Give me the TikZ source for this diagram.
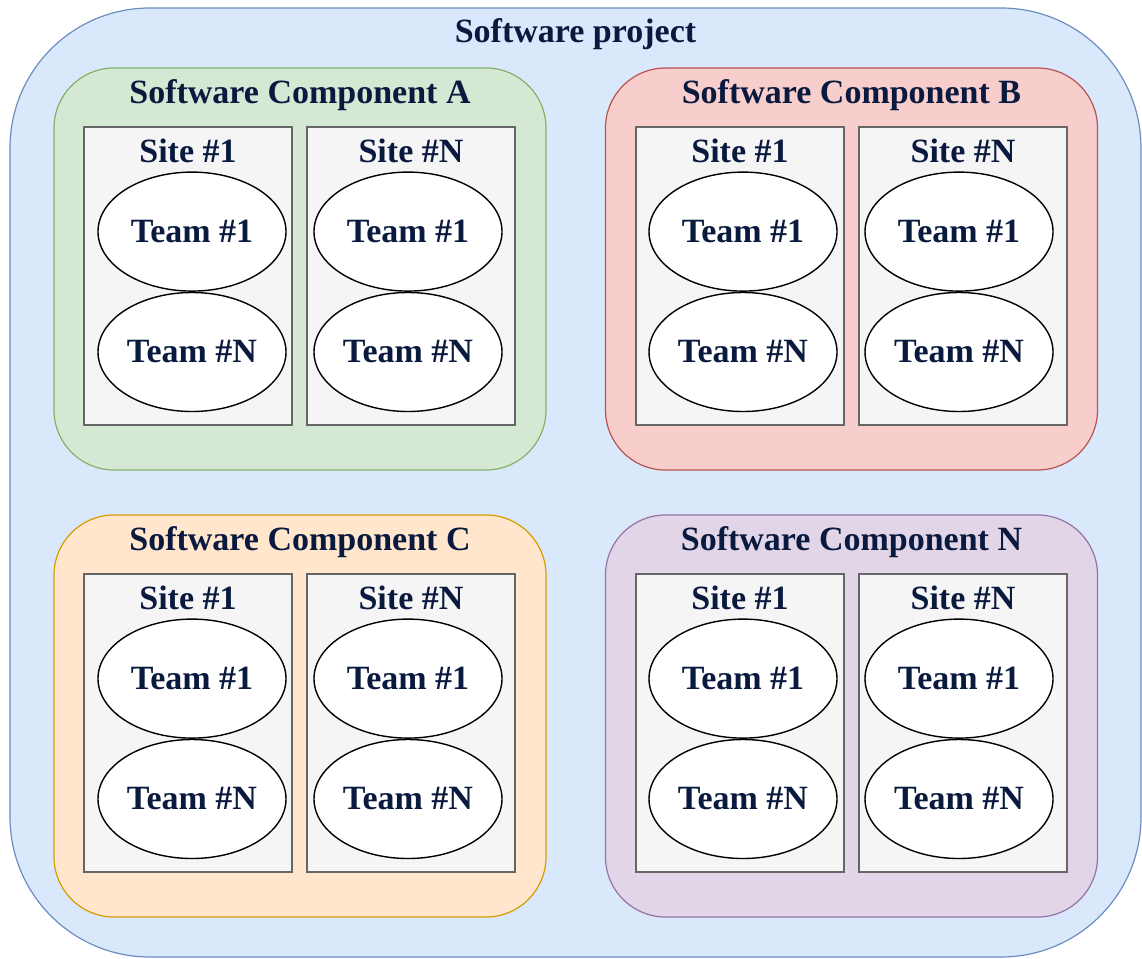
\documentclass[tikz,border=0pt]{standalone}
\usepackage{fontspec}
\setmainfont{Liberation Serif}
\usetikzlibrary{positioning, shapes.geometric}
\definecolor{inkblue}{HTML}{0A1A3F}
\definecolor{projfill}{HTML}{DAE8FC}
\definecolor{projline}{HTML}{6C8EBF}
\definecolor{greenfill}{HTML}{D5E8D4}
\definecolor{greenline}{HTML}{82B366}
\definecolor{redfill}{HTML}{F8CECC}
\definecolor{redline}{HTML}{B85450}
\definecolor{orangefill}{HTML}{FFE6CC}
\definecolor{orangeline}{HTML}{D79B00}
\definecolor{purplefill}{HTML}{E1D5E7}
\definecolor{purpleline}{HTML}{9673A6}
\tikzset{
x=1pt, y=-1pt, % pixel-like units, y grows downwards
every node/.style={font=\fontsize{34}{37}\selectfont\bfseries, text=inkblue}, % bold serif labels
title/.style={anchor=base}, % titles are placed by their baseline
project/.style={draw=projline, fill=projfill, line width=1.2pt, rounded corners=140pt},
comp/.style={rectangle, line width=1.2pt, rounded corners=60pt, inner sep=0pt, minimum width=492pt, minimum height=402pt},
site/.style={rectangle, draw=black!60, fill=black!4, line width=1.2pt, inner sep=0pt, minimum width=208pt, minimum height=298pt},
team/.style={ellipse, draw=black, fill=white, line width=1.4pt, inner sep=0pt, minimum width=188pt, minimum height=119pt},
}

\begin{document}
\begin{tikzpicture}
    \useasboundingbox (0,0) rectangle (1142,958);
    \draw[project] (10,8) rectangle (1141,957);
    \coordinate (proj) at (575.5,8);
    \node[title] at ([yshift=-35pt]proj) {Software project};

    % component A
    \node[comp, draw=greenline, fill=greenfill] (compA) at (300,269) {};
    \node[title] at ([yshift=-36pt]compA.north) {Software Component A};
    \node[site] (siteA1) at (188,276) {};
    \node[site] (siteAN) at (411,276) {};
    \node[title] at ([yshift=-36pt]siteA1.north) {Site \#1};
    \node[title] at ([yshift=-36pt]siteAN.north) {Site \#N};
    \node[team, below=45pt of siteA1.north, xshift=4pt] (teamA11) {Team \#1};
    \node[team, below=0pt of teamA11] (teamA1N) {Team \#N};
    \node[team, below=45pt of siteAN.north, xshift=-3pt] (teamAN1) {Team \#1};
    \node[team, below=0pt of teamAN1] (teamANN) {Team \#N};

    % component B
    \node[comp, draw=redline, fill=redfill] (compB) at (851.5,269) {};
    \node[title] at ([yshift=-36pt]compB.north) {Software Component B};
    \node[site] (siteB1) at (740,276) {};
    \node[site] (siteBN) at (963,276) {};
    \node[title] at ([yshift=-36pt]siteB1.north) {Site \#1};
    \node[title] at ([yshift=-36pt]siteBN.north) {Site \#N};
    \node[team, below=45pt of siteB1.north, xshift=3pt] (teamB11) {Team \#1};
    \node[team, below=0pt of teamB11] (teamB1N) {Team \#N};
    \node[team, below=45pt of siteBN.north, xshift=-4pt] (teamBN1) {Team \#1};
    \node[team, below=0pt of teamBN1] (teamBNN) {Team \#N};

    % component C
    \node[comp, draw=orangeline, fill=orangefill] (compC) at (300,716) {};
    \node[title] at ([yshift=-36pt]compC.north) {Software Component C};
    \node[site] (siteC1) at (188,723) {};
    \node[site] (siteCN) at (411,723) {};
    \node[title] at ([yshift=-36pt]siteC1.north) {Site \#1};
    \node[title] at ([yshift=-36pt]siteCN.north) {Site \#N};
    \node[team, below=45pt of siteC1.north, xshift=4pt] (teamC11) {Team \#1};
    \node[team, below=0pt of teamC11] (teamC1N) {Team \#N};
    \node[team, below=45pt of siteCN.north, xshift=-3pt] (teamCN1) {Team \#1};
    \node[team, below=0pt of teamCN1] (teamCNN) {Team \#N};

    % component N
    \node[comp, draw=purpleline, fill=purplefill] (compN) at (851.5,716) {};
    \node[title] at ([yshift=-36pt]compN.north) {Software Component N};
    \node[site] (siteN1) at (740,723) {};
    \node[site] (siteNN) at (963,723) {};
    \node[title] at ([yshift=-36pt]siteN1.north) {Site \#1};
    \node[title] at ([yshift=-36pt]siteNN.north) {Site \#N};
    \node[team, below=45pt of siteN1.north, xshift=3pt] (teamN11) {Team \#1};
    \node[team, below=0pt of teamN11] (teamN1N) {Team \#N};
    \node[team, below=45pt of siteNN.north, xshift=-4pt] (teamNN1) {Team \#1};
    \node[team, below=0pt of teamNN1] (teamNNN) {Team \#N};
\end{tikzpicture}
\end{document}
